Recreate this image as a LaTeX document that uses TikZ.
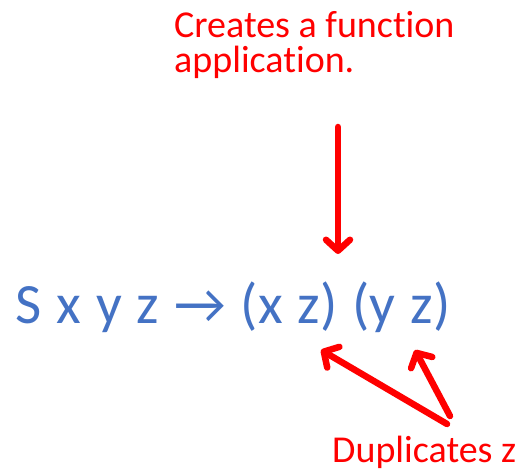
\documentclass[tikz,border=0pt]{standalone}
\usepackage{fontspec}
\setmainfont{Carlito}[Ligatures=NoCommon]
\usetikzlibrary{arrows.meta}
\definecolor{pptred}{HTML}{FF0000}
\definecolor{pptblue}{HTML}{4472C4}
\begin{document}
\begin{tikzpicture}[x=1pt,y=-1pt,
  note/.style={text=pptred,font=\fontsize{38}{35}\selectfont,inner sep=0pt,align=left},
  formula/.style={text=pptblue,font=\fontsize{57}{60}\selectfont,inner sep=0pt,
    execute at begin node={\spaceskip=15pt\relax}},
  redarrow/.style={draw=pptred,line width=6.5pt,line cap=round,line join=round,
    -{Straight Barb[length=11pt,width=24pt,line cap=round,line join=round]}}]
\useasboundingbox (0,0) rectangle (527,470);
\node[note,anchor=base west] (top) at (174,73) {Creates a function\\application.};
\node[formula,anchor=base west] (expr) at (15,323) {S x y z → (x z) (y z)};
\node[note,anchor=base west] (dup) at (332,462) {Duplicates z};
\coordinate (vtail) at (338,127);
\coordinate (vtip) at (338,254);
\coordinate (atail) at (447,424);
\coordinate (atip) at (321,350);
\coordinate (btail) at (450,416);
\coordinate (btip) at (415,350);
\draw[redarrow] (vtail) -- (vtip);
\draw[redarrow] (atail) -- (atip);
\draw[redarrow] (btail) -- (btip);
\end{tikzpicture}
\end{document}
